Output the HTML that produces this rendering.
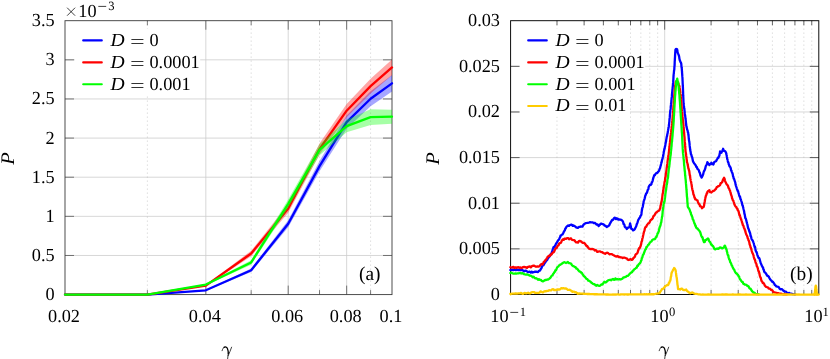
<!DOCTYPE html>
<html><head><meta charset="utf-8"><title>P vs gamma</title>
<style>
html,body{margin:0;padding:0;background:#fff;}
body{width:830px;height:359px;overflow:hidden;font-family:"Liberation Serif",serif;}
#w{width:830px;height:359px;will-change:transform;}
svg{display:block;}
svg text{font-family:"Liberation Serif",serif;fill:#000;text-rendering:geometricPrecision;}
</style></head><body><div id="w">
<svg width="830" height="359" viewBox="0 0 830 359">
<rect width="830" height="359" fill="#fff"/>
<path d="M205.83 20.7V294.6M288.21 20.7V294.6M346.66 20.7V294.6M65 255.47H392M65 216.34H392M65 177.21H392M65 138.09H392M65 98.96H392M65 59.83H392" stroke="#cdcdcd" stroke-width="0.8" fill="none"/>
<path d="M147.38 20.7V294.6M251.17 20.7V294.6M319.53 20.7V294.6M370.59 20.7V294.6" stroke="#b4b4b4" stroke-width="0.8" stroke-dasharray="0.8 3.2" fill="none"/>
<path d="M664.7 20.7V294.5M510.6 248.87H818.8M510.6 203.23H818.8M510.6 157.6H818.8M510.6 111.97H818.8M510.6 66.33H818.8" stroke="#cdcdcd" stroke-width="0.8" fill="none"/>
<path d="M556.99 20.7V294.5M584.12 20.7V294.5M603.38 20.7V294.5M618.31 20.7V294.5M630.51 20.7V294.5M640.83 20.7V294.5M649.77 20.7V294.5M657.65 20.7V294.5M711.09 20.7V294.5M738.22 20.7V294.5M757.48 20.7V294.5M772.41 20.7V294.5M784.61 20.7V294.5M794.93 20.7V294.5M803.87 20.7V294.5M811.75 20.7V294.5" stroke="#b4b4b4" stroke-width="0.8" stroke-dasharray="0.8 3.2" fill="none"/>
<path d="M205.83 294.6v-9 M205.83 20.7v9M288.21 294.6v-9 M288.21 20.7v9M346.66 294.6v-9 M346.66 20.7v9M147.38 294.6v-4.5 M147.38 20.7v4.5M251.17 294.6v-4.5 M251.17 20.7v4.5M319.53 294.6v-4.5 M319.53 20.7v4.5M370.59 294.6v-4.5 M370.59 20.7v4.5M65 255.47h9 M392 255.47h-9M65 216.34h9 M392 216.34h-9M65 177.21h9 M392 177.21h-9M65 138.09h9 M392 138.09h-9M65 98.96h9 M392 98.96h-9M65 59.83h9 M392 59.83h-9" stroke="#444" stroke-width="0.7" fill="none"/>
<path d="M664.7 294.5v-9 M664.7 20.7v9M556.99 294.5v-4.5 M556.99 20.7v4.5M584.12 294.5v-4.5 M584.12 20.7v4.5M603.38 294.5v-4.5 M603.38 20.7v4.5M618.31 294.5v-4.5 M618.31 20.7v4.5M630.51 294.5v-4.5 M630.51 20.7v4.5M640.83 294.5v-4.5 M640.83 20.7v4.5M649.77 294.5v-4.5 M649.77 20.7v4.5M657.65 294.5v-4.5 M657.65 20.7v4.5M711.09 294.5v-4.5 M711.09 20.7v4.5M738.22 294.5v-4.5 M738.22 20.7v4.5M757.48 294.5v-4.5 M757.48 20.7v4.5M772.41 294.5v-4.5 M772.41 20.7v4.5M784.61 294.5v-4.5 M784.61 20.7v4.5M794.93 294.5v-4.5 M794.93 20.7v4.5M803.87 294.5v-4.5 M803.87 20.7v4.5M811.75 294.5v-4.5 M811.75 20.7v4.5M510.6 248.87h9 M818.8 248.87h-9M510.6 203.23h9 M818.8 203.23h-9M510.6 157.6h9 M818.8 157.6h-9M510.6 111.97h9 M818.8 111.97h-9M510.6 66.33h9 M818.8 66.33h-9" stroke="#222" stroke-width="0.7" fill="none"/>
<rect x="65" y="20.7" width="327" height="273.9" fill="none" stroke="#3a3a3a" stroke-width="0.9"/>
<rect x="510.6" y="20.7" width="308.2" height="273.8" fill="none" stroke="#000000" stroke-width="0.95"/>
<g>
<polygon points="65,294.6 147.38,294.6 205.83,289.83 251.17,268.46 288.21,220.18 319.53,161.02 346.66,115.47 370.59,91.29 392,75.09 392,91.52 370.59,106.16 346.66,128.77 319.53,171.19 288.21,227.22 251.17,271.91 205.83,290.77 147.38,294.6 65,294.6" fill="#0000ff" fill-opacity="0.35"/>
<polyline points="65,294.6 147.38,294.6 205.83,290.3 251.17,270.18 288.21,223.7 319.53,166.1 346.66,122.12 370.59,98.72 392,83.31" fill="none" stroke="#0000ff" stroke-width="2.3" stroke-linejoin="round" stroke-linecap="round"/>
<polygon points="65,294.6 147.38,294.6 205.83,284.97 251.17,250.7 288.21,204.21 319.53,143.56 346.66,104.04 370.59,78.69 392,59.59 392,75.25 370.59,93.56 346.66,117.35 319.53,154.52 288.21,212.82 251.17,256.18 205.83,286.23 147.38,294.6 65,294.6" fill="#ff0000" fill-opacity="0.35"/>
<polyline points="65,294.6 147.38,294.6 205.83,285.6 251.17,253.44 288.21,208.52 319.53,149.04 346.66,110.7 370.59,86.12 392,67.42" fill="none" stroke="#ff0000" stroke-width="2.3" stroke-linejoin="round" stroke-linecap="round"/>
<polygon points="65,294.6 147.38,294.6 205.83,283.96 251.17,260.25 288.21,199.52 319.53,144.35 346.66,119.85 370.59,109.29 392,109.68 392,123.76 370.59,124.94 346.66,132.37 319.53,155.3 288.21,208.13 251.17,264.63 205.83,285.21 147.38,294.6 65,294.6" fill="#00ff00" fill-opacity="0.35"/>
<polyline points="65,294.6 147.38,294.6 205.83,284.58 251.17,262.44 288.21,203.82 319.53,149.82 346.66,126.11 370.59,117.11 392,116.72" fill="none" stroke="#00ff00" stroke-width="2.3" stroke-linejoin="round" stroke-linecap="round"/>
</g>
<polyline points="510.35,270.05 511.35,269.83 512.35,269.54 513.36,270.2 514.36,269.58 515.36,270.09 516.36,270.02 517.37,269.58 518.37,270.12 519.32,269.71 520.28,270.24 521.23,269.95 522.19,269.98 523.14,270.54 524.1,271.37 525.05,270.69 526.01,270.73 526.96,271.42 527.92,272.18 528.87,271.96 529.83,271.73 530.78,272.59 531.74,271.61 532.81,272.52 533.88,272.03 534.95,271.73 536.02,271.66 537.09,271.97 537.98,272.19 538.87,270.93 539.76,270.73 540.29,270.12 540.83,268.99 541.36,268.35 541.9,266.89 542.43,265.89 542.97,265.24 543.5,265.17 544.04,264.22 544.57,263.21 545.11,262.74 545.68,261.78 546.25,260.68 546.83,260.45 547.4,259.65 547.97,258.15 548.54,257.58 549.12,256.73 549.65,256.44 550.19,255.58 550.72,254.12 551.26,254.12 551.79,252.32 552.1,251.47 552.41,251.02 552.71,249.34 553.02,248.63 553.52,247.23 554.02,247.13 554.53,246.65 555.03,245.65 555.53,245.2 556.03,243.67 556.53,243.18 557.03,242.3 557.53,241.43 558.03,240.41 558.54,240.07 559.04,239.53 559.54,238.11 560.04,237.37 560.54,235.69 561.04,235.53 561.71,234.82 562.38,234.51 563.05,233.59 563.72,231.96 564.25,230.93 564.79,230.37 565.32,228.62 565.86,228.07 566.39,226.83 567.28,226.13 568.17,225.46 569.06,225.91 569.96,225.01 570.85,224.73 571.74,224.66 572.63,225.86 573.52,225.39 574.41,226.1 575.3,226.58 576.19,227.4 577.09,227.74 577.98,227.82 578.87,227.01 579.76,226.96 580.65,226.42 581.54,226.7 582.43,226.58 583.32,224.93 584.22,224.07 585.11,223.49 586,223.04 586.89,222.96 587.78,222.77 588.89,222.54 590,222.22 590.89,222.44 591.78,222.28 592.67,222.36 593.68,223.01 594.68,222.83 595.35,223.19 596.02,223.91 596.68,224.68 597.69,224.49 598.69,226.11 599.36,225.34 600.03,224.62 600.7,223.66 601.7,223.73 602.7,224.23 603.7,224.42 604.71,225.71 605.37,225.74 606.04,226.23 606.71,227.04 607.6,226.35 608.49,225.93 609.39,224.93 609.89,223.75 610.39,222.91 610.89,221.88 611.39,221.25 612.06,219.98 612.73,220.2 613.4,219.27 614.06,218.12 614.73,217.59 615.4,218.38 616.07,219.11 616.74,218.25 617.41,218.66 618.3,219.6 619.19,219.43 620.08,219.72 620.97,219.77 621.86,220.27 622.75,221.24 623.16,222.15 623.56,223.89 623.96,224.11 624.36,224.63 624.76,226.78 625.43,227.42 626.1,227.69 626.76,228.97 627.77,227.67 628.77,227.54 629.1,227.34 629.44,226.42 629.77,225.19 630.11,223.5 630.33,224.34 630.55,224.92 630.78,226.59 631,227.37 631.22,228.59 631.44,228.93 632.25,229.14 633.05,230.43 633.92,230.04 634.79,229.12 635.29,228.04 635.79,227.03 636.29,225.91 636.79,224.13 637.19,223.38 637.59,222.27 637.99,220.81 638.4,219.72 638.8,219.1 639.2,218.23 639.6,217.93 640,217.57 640.4,216.07 640.8,215.67 641.26,214.91 641.44,213.99 641.62,212.2 641.81,210.8 641.99,209.72 642.18,208.69 642.36,207.73 642.54,207.39 642.73,207.02 642.92,206.15 643.11,204.7 643.3,203.85 643.49,203.14 643.68,201.23 643.87,200.81 644.06,200.38 644.4,199.35 644.73,198.29 645.07,196.88 645.4,195.32 645.74,195.04 646.07,193.59 646.52,193.24 646.96,192.76 647.41,191.16 647.74,189.95 648.07,189.67 648.41,188.57 648.74,186.74 649.41,185.59 650.08,184.7 650.75,184.93 651.42,184.27 651.75,182.37 652.09,182.08 652.42,181.51 652.75,180.17 653.09,178.63 653.42,177.75 653.92,176.18 654.43,174.84 654.93,175.11 655.43,174.03 656.32,173.16 657.21,173.02 658.1,171.79 658.6,171.42 659.1,170.65 659.61,168.95 660.11,167.92 660.33,166.98 660.55,165.97 660.78,165.51 661,164.24 661.22,163.44 661.44,162.13 661.67,162.2 661.89,160.76 662.11,159.83 662.34,159.07 662.56,158.65 662.78,157.18 662.98,156.79 663.18,155.42 663.38,154.4 663.58,153.43 663.78,151.75 663.98,151.2 664.18,150.01 664.39,148.74 664.59,148.85 664.79,147.33 664.97,146.61 665.15,146.08 665.33,145 665.52,143.66 665.7,142.85 665.88,141.98 666.06,141.37 666.24,139.53 666.43,138.95 666.61,137.65 666.79,136.62 666.97,136.34 667.16,135.2 667.34,134.25 667.52,133.57 667.7,132.91 667.89,131.35 668.07,130.45 668.25,129.34 668.43,128.34 668.61,127.62 668.8,126.38 668.9,125.42 669,124.37 669.09,124.03 669.19,122.88 669.29,122.1 669.39,121.27 669.49,119.35 669.59,118.51 669.69,118.12 669.79,117.17 669.89,115.18 669.99,113.87 670.09,113.24 670.19,111.83 670.28,110.96 670.38,109.76 670.48,109.57 670.58,108.99 670.68,108.29 670.78,106.31 670.88,105.84 670.98,104.93 671.08,103.22 671.18,103.08 671.28,102.46 671.38,100.51 671.47,100.29 671.57,98.74 671.67,97.71 671.77,97.43 671.87,96.43 671.97,94.43 672.08,93.5 672.18,92.62 672.28,91.38 672.39,90.09 672.49,89.15 672.59,88.73 672.69,86.88 672.8,86.37 672.9,85.33 673,83.7 673.11,82.94 673.21,82.41 673.25,81.41 673.29,79.78 673.34,79.92 673.38,78.99 673.42,78.28 673.52,76.15 673.62,75.06 673.71,73.72 673.81,73.71 673.91,72.29 674.01,70.98 674.1,70.33 674.2,70.16 674.3,69.29 674.39,67.55 674.49,66.18 674.54,66.2 674.59,65.03 674.64,64.18 674.69,62.37 674.74,61.09 674.78,60.94 674.83,59.84 674.88,58.31 674.93,58.43 674.98,57.34 675.03,56.57 675.09,54.6 675.16,54.42 675.23,52.52 675.29,52.4 675.36,51.07 675.43,49.81 675.76,49.17 676.1,48.91 676.63,49.01 677.17,49.45 677.34,51.01 677.52,51.84 677.7,52.68 678.03,53.51 678.37,54.18 678.7,55.19 679.04,56.23 679.24,57.29 679.44,58.96 679.64,59.49 679.84,60.65 680.17,61.07 680.51,62.03 680.84,62.43 681.18,63.46 681.31,64.26 681.44,66.28 681.58,67.37 681.71,67.92 681.84,69.25 681.92,71.03 681.99,71.1 682.07,72.87 682.14,73.58 682.22,74.61 682.29,76.13 682.36,76.68 682.44,77.74 682.51,79.04 682.55,80.53 682.6,80.75 682.64,82.21 682.68,83.15 682.72,84.03 682.76,84.64 682.8,85.44 682.84,85.94 682.88,86.89 682.93,87.78 682.97,89.7 683.01,90.27 683.05,91 683.09,91.79 683.13,93.81 683.17,95.15 683.21,95.95 683.26,96.32 683.3,97.07 683.34,98.05 683.38,99.28 683.42,99.9 683.46,101.19 683.5,102.01 683.62,103.95 683.74,105.23 683.85,105.69 683.97,106.08 684.08,107.92 684.2,108.22 684.32,109.06 684.43,109.49 684.55,110.86 684.67,112.09 684.78,113.19 684.9,113.77 685.01,115.07 685.13,115.43 685.25,116.6 685.36,117.38 685.48,118.75 685.6,119.34 685.71,120.17 685.83,121.52 685.94,122.5 686.06,124 686.18,125.05 686.43,126.39 686.68,127.36 686.93,128.44 687.18,129.7 687.43,130.08 687.68,130.8 687.93,132.67 688.18,132.73 688.3,134.24 688.42,135.26 688.55,135.39 688.67,137.24 688.79,138.56 688.91,139.26 689.03,140.3 689.15,141.41 689.28,141.45 689.4,142.7 689.52,143.72 689.64,145.19 689.76,146.26 689.88,147.3 690,147.94 690.13,149.26 690.25,150.03 690.37,150.96 690.49,151.25 690.61,151.73 690.73,152.71 690.86,154.01 691.3,154.63 691.75,156.49 692.19,157.27 692.41,158.41 692.62,159.5 692.83,160.65 693.05,161.47 693.26,161.76 694.06,163.34 694.87,164.22 695.37,164.89 695.87,165.82 696.37,166.96 696.87,167.13 697.41,168.79 697.94,169.24 698.48,169.78 699.01,170.87 699.55,172.52 699.88,172.87 700.21,174.37 700.55,175.78 700.88,176.14 701.22,176.71 701.55,177.64 701.95,177.01 702.35,176.29 702.75,175.2 703.16,174.25 703.56,172.5 703.89,171.47 704.22,170.69 704.56,170.53 704.89,169.23 705.23,168.59 705.56,166.98 705.86,165.96 706.16,165.33 706.46,165.11 706.76,164.46 707.05,163.63 707.35,162.21 708.02,163.26 708.69,164.13 709.36,165.01 710.03,163.84 710.7,164.14 711.36,162.76 712.37,164 713.37,164.55 714.04,162.4 714.71,161.77 715.37,161.47 716.04,161.2 716.71,159.9 717.38,158.78 717.88,157.73 718.38,157.88 718.88,156.29 719.39,155.76 719.55,154.21 719.72,153.6 719.89,153.33 720.05,151.37 721.39,152.74 721.82,151.66 722.26,151.3 722.69,150.34 723.13,148.79 723.66,150.43 724.2,150.95 724.73,151.07 725.4,151.47 726.07,152.76 726.26,153.85 726.45,154.63 726.64,155.3 726.83,156.46 727.02,157.43 727.22,159.15 727.41,159.13 727.74,160.91 728.07,162.28 728.41,162.36 728.74,164.24 729.14,165.14 729.55,166.33 729.95,166.46 730.35,167.28 730.75,168.21 731.04,170.03 731.32,170.66 731.61,171.18 731.89,172.11 732.18,172.83 732.47,173.39 732.75,174.31 733.07,176.32 733.38,176.81 733.69,178.58 734,178.8 734.31,179.57 734.63,180.84 734.94,181.43 735.25,182.56 735.56,184.41 735.87,185.55 736.19,186.46 736.5,187.16 736.81,188.45 737.12,189.56 737.43,190.01 737.77,191.1 738.1,191.17 738.44,192.87 738.77,193.68 739.1,195.06 739.44,196.02 739.77,196.49 740.11,196.99 740.44,199.11 740.78,199.29 741.11,200.55 741.44,201.44 741.78,202.35 742.11,203.95 742.45,205.48 742.78,205.61 742.98,206.85 743.18,207.37 743.38,208.55 743.58,209.32 743.78,209.88 743.98,210.7 744.18,211.66 744.39,213.61 744.59,214.27 744.79,214.72 745.04,216.56 745.29,217.95 745.54,218.28 745.79,218.63 746.04,219.52 746.29,220.34 746.54,221.65 746.79,222.38 747.08,223.47 747.38,224.49 747.67,225.91 747.96,227.46 748.25,228.39 748.55,228.86 748.84,229.66 749.13,230.73 749.42,231.51 749.72,232.35 750.01,232.87 750.3,234.01 750.59,236.01 750.89,236.06 751.18,237.29 751.47,238.51 751.85,239.78 752.23,239.83 752.62,240.53 753,241.31 753.38,242.36 753.76,243.34 754.14,244.97 754.4,245.97 754.65,246.95 754.9,246.66 755.15,247.23 755.4,249.02 755.65,250.47 755.9,250.94 756.15,251.89 756.53,251.91 756.91,253.08 757.3,254.81 757.68,255.78 758.06,256.72 758.44,257.77 758.82,257.64 759.21,258.1 759.59,258.97 759.97,260.43 760.35,261.77 760.73,263.21 761.12,264 761.5,264.79 761.88,265.87 762.26,266.42 762.64,267.39 763.03,267.61 763.41,269.41 763.79,269.83 764.17,271.62 764.67,272.3 765.17,272.6 765.68,273.03 766.18,273.92 766.84,275.15 767.51,276.08 768.18,275.99 768.85,276.7 769.52,278.27 770.17,279.39 770.82,280.06 771.47,280.63 772.14,281.75 772.81,281.71 773.48,282.58 774.14,283.54 774.81,285.01 775.61,285.47 776.42,286.42 777.22,286.58 778.02,286.75 778.82,287.29 779.63,288.81 780.43,289.28 781.23,289.22 782.03,289.16 782.83,290.21 783.84,291.11 784.84,291.37 785.84,291.56 786.84,292.56 787.85,293.42 788.85,292.9 789.85,293.35 790.86,293.72 791.86,293.91 792.86,294.13 793.86,294.23 794.87,294.48" fill="none" stroke="#0000ff" stroke-width="2.3" stroke-linejoin="round" stroke-linecap="round"/>
<polyline points="510.35,267.11 511.35,267.52 512.35,267.36 513.36,266.92 514.36,267.94 515.36,267.34 516.36,267.94 517.37,267.32 518.37,267.17 519.32,267.84 520.28,267.34 521.23,268.12 522.19,267.66 523.14,267.06 524.1,266.9 525.05,267.1 526.01,267.44 526.96,267.88 527.92,266.79 528.87,266.75 529.83,266.42 530.78,267.34 531.74,266.36 532.69,265.83 533.65,265.58 534.6,265.9 535.56,266.63 536.51,266.73 537.47,266.45 538.42,266.65 539.43,266.23 540.43,264.93 541.43,264.02 542.43,264.53 543.1,263.7 543.77,261.84 544.44,261.61 545.11,260.54 545.78,259.69 546.44,258.83 547.11,257.79 547.78,256.69 548.45,256.21 549.12,255.63 549.92,255.89 550.72,254.3 551.52,254.57 552.33,253.09 553.13,252.39 553.64,252.27 554.16,251.69 554.67,250.41 555.18,248.92 555.7,248.54 556.27,247.75 556.84,247.77 557.41,246.19 557.99,245.43 558.56,245.44 559.13,243.66 559.71,243.13 560.37,243.12 561.04,242.58 561.71,240.9 562.38,239.92 563.05,239.27 563.72,239.89 564.39,238.7 565.05,238.62 566.06,238.87 567.06,238.04 568.06,238.07 569.06,239.3 570.4,238.41 571.07,238.5 571.74,239.65 572.41,239.89 573.41,240.17 574.41,240.19 575.3,241.49 576.19,242.36 577.09,242.47 577.98,242.62 578.87,241.18 579.76,240.9 580.76,241.23 581.76,242.02 582.77,242.92 583.77,242.84 584.44,243.09 585.11,243.89 585.78,244.69 586.44,246.02 587.11,245.82 587.78,247.12 588.45,247.88 589.12,248.7 590,249 591,249.09 592.01,248.95 593.01,249.13 594.01,249.47 594.81,250.54 595.61,250.16 596.42,250.54 597.22,251.77 598.02,251.73 599.09,251.4 600.16,251.31 601.23,252.09 602.3,252.05 603.37,253.04 604.26,253.39 605.15,253.81 606.04,253.05 606.93,252.71 607.83,252.79 608.72,253.54 609.61,254.23 610.5,254.21 611.39,254.06 612.28,254.43 613.17,254.99 614.06,255.39 614.96,255.89 615.85,256.41 616.74,256.54 617.63,256.03 618.52,257.15 619.41,256.93 620.48,257.37 621.55,257.37 622.62,258.05 623.69,257.63 624.76,257.72 625.76,258.08 626.76,258.34 627.77,259.75 628.77,260.01 629.77,259.44 630.78,259.25 631.78,259.94 632.78,259.33 633.32,258 633.85,257.87 634.39,257.04 634.92,256.72 635.45,254.78 635.99,254.17 636.52,253.93 637.06,253.32 637.59,252.69 638.13,250.67 638.51,249.82 638.89,248.71 639.27,247.87 639.66,248.15 640.04,247.07 640.42,246.64 640.8,245.11 641.05,244.62 641.3,243.17 641.55,241.76 641.8,241.38 642.06,240.81 642.31,238.72 642.56,238.1 642.81,237.25 643.06,235.71 643.31,234.76 643.56,233.45 643.81,232.45 644.06,231.52 644.31,231.03 644.56,230.26 644.81,228.68 645.31,227.39 645.82,226.88 646.32,226.65 646.82,225.28 647.49,224.47 648.16,223.48 648.82,223.46 649.49,222.51 650.16,220.94 650.83,219.94 651.5,219.48 652.17,218.98 652.67,218.37 653.17,216.81 653.67,215.87 654.17,215.76 654.84,214.57 655.51,213.33 656.14,212.35 656.76,212.33 657.66,211.24 658.55,210.96 659.44,210.27 659.69,209.28 659.94,208.92 660.19,208.3 660.44,206.5 660.69,205.02 660.94,204.64 661.19,203.07 661.44,201.61 661.59,201.81 661.73,200.51 661.87,200.03 662.02,198.62 662.16,198.21 662.3,196.81 662.45,195.3 662.59,193.96 662.73,193.66 662.88,193.03 663.02,192.56 663.16,190.57 663.31,190.07 663.45,188.89 663.62,188.02 663.78,186.54 663.95,185.59 664.12,184.94 664.28,184.63 664.45,182.66 664.62,181.91 664.79,181.44 664.95,180.83 665.12,178.84 665.29,177.44 665.45,177.49 665.59,176.86 665.73,175.26 665.87,173.46 666.01,173.48 666.15,172.02 666.29,171.62 666.43,170.4 666.57,169.62 666.71,167.74 666.85,167.38 666.99,165.76 667.13,164.84 667.26,164.5 667.4,163.67 667.54,161.8 667.68,160.59 667.82,159.79 667.96,159.02 668.1,157.9 668.24,156.49 668.38,155.54 668.52,155.25 668.66,154.71 668.8,152.62 668.91,152.04 669.01,151.45 669.12,149.53 669.23,149.4 669.34,147.63 669.45,147.09 669.56,146.15 669.67,145.28 669.77,143.85 669.88,142.89 669.99,142.13 670.1,140.98 670.21,140.26 670.32,139.04 670.43,137.96 670.53,136.34 670.66,135.98 670.78,134.97 670.9,133.58 671.03,133.2 671.15,132.39 671.28,130.97 671.4,129.42 671.52,128.66 671.65,127.18 671.77,126.05 671.89,125.43 672.02,124.03 672.14,123.4 672.22,122.6 672.29,120.98 672.37,120.64 672.44,119.03 672.52,118.78 672.6,118.06 672.67,116.75 672.75,114.99 672.83,114.4 672.9,113.33 672.98,113.13 673.06,111.19 673.13,110.93 673.21,110.35 673.28,109.08 673.36,108.11 673.44,106.22 673.51,106.08 673.59,104.62 673.67,104.14 673.74,103.23 673.83,101.16 673.91,100.71 673.99,100.06 674.07,97.9 674.15,96.94 674.24,96.52 674.32,94.81 674.4,94.64 674.48,92.98 674.57,92.54 674.65,90.72 674.73,89.97 674.81,89.62 674.97,87.85 675.12,86.73 675.27,86.07 675.42,84.94 675.58,83.52 675.73,82.64 675.88,81.68 676.35,81.79 676.82,80.75 677.2,81.91 677.58,81.81 677.96,83.27 678.35,83.35 678.73,84.57 679.11,85.69 679.49,86.23 679.64,87.91 679.79,88.69 679.94,89.68 680.09,91.14 680.23,91.19 680.38,93.21 680.53,94.02 680.68,94.66 680.83,96.15 680.9,96.55 680.97,98.44 681.04,99.13 681.12,99.74 681.19,101.23 681.26,101.93 681.33,102.48 681.4,104.18 681.48,104.41 681.55,106.31 681.62,106.78 681.69,108.2 681.76,109.84 681.87,110.46 681.97,111.47 682.07,111.98 682.17,112.39 682.27,113.27 682.38,114.41 682.48,116.13 682.58,117.09 682.68,118.2 682.78,119.8 682.89,119.88 682.99,120.76 683.09,122.34 683.19,122.61 683.29,123.38 683.39,124.82 683.5,125.61 683.6,126.91 683.7,127.82 683.8,129.32 683.9,130.49 683.98,130.98 684.06,132.44 684.14,133.36 684.22,133.85 684.3,135.85 684.39,136.16 684.47,136.81 684.55,137.64 684.63,139.37 684.71,140.92 684.79,141.96 684.87,142.43 684.95,143.07 685.03,143.6 685.11,145.38 685.19,146.49 685.27,147.22 685.35,148.57 685.43,149.38 685.51,151.04 685.63,151.92 685.75,152.16 685.87,153.86 685.99,153.81 686.12,155.18 686.24,156.09 686.36,156.8 686.48,157.44 686.6,159.35 686.72,159.49 686.84,161 687.07,162.71 687.29,162.77 687.51,163.56 687.74,165.08 687.96,166.09 688.18,167.28 688.4,168.57 688.63,168.74 688.85,169.68 689.07,170.64 689.3,171.26 689.52,173.35 689.69,174.53 689.85,175.49 690.02,175.46 690.19,177.36 690.35,178.49 690.52,179.12 690.69,180.41 690.86,181.09 691.02,181.66 691.19,182.37 691.36,183.46 691.52,184.21 691.72,185.5 691.93,187.14 692.13,188.21 692.33,189.4 692.53,190.22 692.73,190.48 692.93,191.62 693.13,192.45 693.33,193.87 693.53,194.56 693.86,195.01 694.2,196.31 694.53,197.79 694.87,197.78 695.2,199.36 695.53,199.21 696.54,199.92 697.54,200.56 698.04,202.12 698.54,203.47 699.04,204.17 699.55,204.36 700,206.25 700.67,206.31 701.34,206.66 702.01,208.2 702.87,207.39 703.74,206.77 703.92,205.78 704.1,205.26 704.28,203.69 704.46,203.08 704.63,202.02 704.81,201.25 704.99,199.74 705.17,199.03 705.35,197.91 705.68,196.6 706.02,195.44 706.35,195.06 706.68,193.54 707.02,193.66 707.35,191.97 708.36,190.89 709.36,190.22 710.03,192.07 710.7,192.25 711.36,192.48 712.37,191.51 713.37,190.78 714.04,190.8 714.71,190.1 715.37,189.36 716.04,188.79 716.71,187.19 717.38,186.99 718.05,186.14 718.72,186.07 719.39,185.58 720.05,185.07 720.63,183.09 721.2,183.06 721.77,182.53 722.35,181.83 722.92,179.82 723.49,178.77 724.06,177.74 724.51,178.5 724.96,180.56 725.4,181.78 725.85,182.54 726.29,183.7 726.74,184.43 727.18,184.81 727.63,185.3 728.07,186.11 728.52,187.95 728.97,188.37 729.41,189.31 729.75,190.46 730.08,190.93 730.41,192.12 730.75,193.21 731.08,194.86 731.42,195.56 731.75,196.4 732.09,198.28 732.42,198.8 732.75,200.1 733.09,200.8 733.42,200.81 733.76,202 734.09,203.04 734.43,204.48 734.76,204.94 735.29,206.12 735.83,206.8 736.36,207.1 736.9,208.68 737.43,208.6 737.77,210.31 738.1,210.53 738.44,211 738.77,212.07 739.1,213.84 739.44,215.32 739.77,215.01 740.11,216.26 740.44,217.36 740.78,218.84 741.11,219.1 741.44,220.33 741.78,221.18 742.11,222.84 742.45,223.22 742.78,225.02 743.11,225.22 743.45,225.81 743.78,227.33 744.12,228.13 744.45,228.45 744.79,229.94 745.12,230.23 745.45,231.97 745.79,233 746.12,234.07 746.46,234.81 746.79,235.27 747.13,236.11 747.46,237 747.79,238.61 748.13,238.58 748.43,240.41 748.72,240.4 749.02,241.33 749.32,242.37 749.61,244.27 749.91,244.94 750.21,245.64 750.51,247.26 750.8,247.48 751.14,248.59 751.47,249.72 751.8,251.09 752.14,252.2 752.47,253.08 752.81,253.62 753.14,254.45 753.48,255.15 753.81,257.05 754.14,258.07 754.48,259.19 754.81,259.4 755.15,260.56 755.48,262.09 755.82,262.97 756.15,263.28 756.48,264.56 756.82,266.25 757.15,266.53 757.49,267.25 757.82,268.33 758.16,269.93 758.49,271.32 758.82,271.44 759.08,272.24 759.34,273.35 759.59,274.53 759.85,275.91 760.11,276.54 760.51,277.59 760.91,278.36 761.31,280.38 761.71,281.29 762.11,281.31 762.78,283.08 763.45,282.93 764.12,283.85 764.79,285.56 765.45,286.36 766.26,286.94 767.06,287.15 767.86,287.34 768.66,288.5 769.47,288.55 770.27,289.04 771.07,289.82 771.87,289.92 772.67,290.85 773.48,292.07 774.48,292.47 775.48,292.54 776.48,292.99 777.49,293.12 778.56,293.25 779.63,293.53 780.7,293.73 781.76,293.99 782.83,294.25 783.84,294.25 784.84,294.32 785.84,294.42 786.84,294.44" fill="none" stroke="#ff0000" stroke-width="2.3" stroke-linejoin="round" stroke-linecap="round"/>
<polyline points="510.35,272.99 511.35,272.6 512.35,273.2 513.36,273.6 514.36,273.57 515.36,273.46 516.36,273.64 517.37,273.45 518.37,273.33 519.32,273.18 520.28,273.04 521.23,273.56 522.19,273.06 523.14,273.48 524.1,274.23 525.05,274.47 526.01,274.66 526.96,274.37 527.92,274.73 528.87,275.09 529.83,275.64 530.78,275.69 531.74,276.3 532.63,277.2 533.52,276.71 534.41,277.55 535.3,278.3 536.19,278.27 537.09,278.72 538.02,279.82 538.96,279.08 539.89,279.87 540.83,279.84 541.76,281 542.88,281.37 543.99,280.81 545.11,279.98 546.11,280 547.11,279.66 548.11,279.5 549.12,278.86 549.79,278.2 550.45,277.73 551.12,276.6 551.79,275.55 552.46,275.47 553.13,273.83 553.7,273.4 554.27,272.25 554.85,271.84 555.42,270.19 555.99,270.33 556.57,268.87 557.14,267.4 557.81,266.86 558.48,266.41 559.14,265.25 559.81,265.02 560.48,264.49 561.15,264.26 562.15,263.46 563.16,262.79 564.16,262.22 565.16,262.49 566.05,262.99 566.94,262.55 567.83,261.97 568.64,263.12 569.44,263.21 570.24,263.31 571.04,263.56 571.84,264.91 572.61,265.78 573.37,266.2 574.14,266.48 574.9,267.1 575.66,267.21 576.43,268.7 577.19,268.67 577.86,269.57 578.53,270.57 579.2,271.33 579.87,271.53 580.53,271.8 581.2,272.72 581.87,272.85 582.54,274.38 583.11,274.71 583.69,276.06 584.26,276.16 584.83,276.88 585.4,277.46 585.98,278.41 586.55,278.89 587.31,279.07 588.08,280.54 588.84,280.72 589.61,281.09 590.37,281.66 591.13,282.46 591.9,283.01 592.79,283.69 593.68,284.19 594.57,284.18 595.46,285.25 596.35,285.73 597.25,285 598.25,285.6 599.25,285.78 600.25,285.54 601.26,284.43 602.06,284.6 602.86,283.99 603.66,282.55 604.47,281.73 605.27,282.47 606.22,282.08 607.18,281.14 608.13,280.4 609.09,280 610.04,279.77 611,280.24 611.95,279.52 612.98,278.95 614,279.74 615.03,279.69 615.35,278.48 616.42,279.27 617.49,279.09 618.56,279.29 619.63,279.19 620.7,279.48 621.59,279.02 622.48,278.67 623.37,277.36 624.26,277.4 625.15,276.9 626.04,276.77 626.93,275.86 627.83,275.84 628.72,274.97 629.61,273.9 630.5,273.14 631.39,272.39 632.06,272.09 632.73,270.85 633.4,270.54 634.06,269.45 634.73,269.1 635.4,268.48 636.07,267.82 636.74,267.57 637.31,265.72 637.88,265.83 638.46,264.79 639.03,264.08 639.6,263.48 640.18,263.02 640.75,261.68 641.09,260.58 641.43,260.34 641.78,258.31 642.12,257.82 642.46,256.98 642.81,255.17 643.14,254.86 643.48,254.25 643.81,253.8 644.14,252.18 644.48,252.01 644.81,250.65 645.35,249.54 645.88,249.15 646.42,247.13 646.95,246.86 647.49,245.98 648.16,244.76 648.82,244.55 649.49,243.2 650.16,242.36 650.83,241.76 651.5,241.47 652.17,240.11 652.83,239.56 653.84,239.24 654.84,239.1 655.34,238.71 655.84,237.24 656.34,236.99 656.84,235.72 657.18,234.84 657.51,233.62 657.85,232.96 658.18,232.82 658.52,231.69 658.85,230.93 659.14,229.35 659.42,228.18 659.71,227.14 660,226.57 660.28,225.8 660.57,225.12 660.86,223.17 661.05,222.9 661.24,222.39 661.43,221.08 661.62,219.3 661.81,218.46 662,217.12 662.19,216.31 662.27,216.41 662.35,215.3 662.43,214.34 662.51,213.54 662.59,212.78 662.67,211.43 662.82,210.29 662.97,209.23 663.12,208.29 663.27,207.13 663.42,206.18 663.57,204.49 663.71,203.91 663.86,202.71 664.01,202.06 664.06,202.27 664.12,203.17 664.25,201.94 664.39,201.95 664.52,201.47 664.65,200.26 664.79,198.8 664.92,198.33 665.05,197.45 665.19,196.18 665.32,194.67 665.45,193.6 665.59,192.76 665.72,191.68 665.86,190.83 665.99,190.19 666.12,189.73 666.27,187.67 666.41,187.12 666.55,185.53 666.7,184.49 666.84,184.51 666.98,183.51 667.13,183.03 667.27,181.54 667.41,179.81 667.56,179.15 667.7,178.58 667.84,178.24 667.99,177.53 668.13,175.92 668.24,174.66 668.36,173.14 668.48,172.78 668.59,171.36 668.71,170.16 668.83,168.92 668.94,167.84 669.06,167.81 669.17,166.3 669.29,166.38 669.41,164.45 669.52,164.3 669.64,162.51 669.76,161.12 669.87,161.03 669.99,159.62 670.1,159.22 670.22,157.63 670.34,156.26 670.45,156.21 670.57,155.42 670.69,154.7 670.8,153.61 670.9,151.65 671,151.14 671.1,150.41 671.2,149.12 671.3,148.72 671.4,146.92 671.5,146.7 671.6,145.57 671.7,143.52 671.8,142.2 671.91,142.02 672.01,141.51 672.11,139.59 672.21,138.65 672.31,138.26 672.41,136.63 672.49,136.42 672.57,135.1 672.65,133.36 672.74,132.57 672.82,131.91 672.9,130.79 672.98,130.08 673.06,128.38 673.15,128.09 673.23,126.66 673.31,125.92 673.39,124.95 673.48,123.64 673.53,122.51 673.59,122.05 673.65,121.44 673.71,120.33 673.76,118.98 673.82,117.48 673.88,116 673.93,116.17 673.99,115.14 674.05,114.31 674.11,112.64 674.16,111.84 674.22,111.44 674.28,110.41 674.34,109.07 674.39,107.55 674.45,106.56 674.51,106.23 674.56,104.7 674.62,103.98 674.68,102.95 674.74,102.36 674.79,101.36 674.85,99.61 674.91,97.98 674.97,97.17 675.02,96.45 675.08,95.78 675.16,95.18 675.24,94.38 675.33,92.2 675.41,91.97 675.49,91.15 675.57,90.26 675.66,88.85 675.74,87.28 675.82,86.92 675.9,86.03 675.99,84.86 676.07,84.12 676.15,82.37 676.42,80.94 676.68,80.6 676.95,80.26 677.22,78.71 677.53,80.41 677.84,81.96 678.16,82.2 678.26,83.5 678.36,84.71 678.46,85.49 678.57,86.07 678.67,87.03 678.77,88.76 678.87,90.05 678.98,90.68 679.08,91.06 679.18,92.92 679.29,94.15 679.39,94.47 679.49,95.78 679.56,97.31 679.62,98.45 679.69,98.96 679.75,99.74 679.82,100.83 679.88,101.27 679.95,102.1 680.01,103.02 680.08,104.74 680.14,105.47 680.21,106.66 680.27,107.48 680.34,108.59 680.4,109.08 680.47,109.77 680.53,112.04 680.6,112.52 680.66,112.97 680.73,114.56 680.79,115.95 680.86,116.15 680.92,117.54 680.99,118.28 681.05,119.45 681.12,119.77 681.18,120.58 681.25,122.89 681.31,124.1 681.38,124.61 681.44,125.57 681.5,126.11 681.57,127.71 681.63,128.38 681.7,130.02 681.76,130.95 681.82,132 681.87,133.23 681.93,133.28 681.98,133.69 682.03,134.74 682.09,135.73 682.14,136.59 682.19,137.51 682.25,139.21 682.3,140.87 682.35,141.48 682.41,143.07 682.46,144.19 682.51,144.02 682.57,145.43 682.62,146.27 682.67,146.82 682.73,148.9 682.78,149.22 682.83,150.45 682.93,151.63 683.03,153.14 683.12,153.88 683.22,154.4 683.31,155.33 683.41,155.9 683.5,157.93 683.6,159.27 683.69,159.26 683.79,159.7 683.88,160.84 683.98,162.02 684.08,163.86 684.17,165.12 684.27,166.1 684.36,165.95 684.46,167.67 684.55,168.77 684.65,169.71 684.74,171.18 684.84,170.98 684.94,171.75 685.03,173.56 685.13,175.06 685.22,175.84 685.32,176.22 685.41,177.46 685.51,178.77 685.59,178.92 685.68,179.99 685.76,180.91 685.84,181.7 685.93,183.15 686.01,183.84 686.09,184.85 686.18,185.71 686.26,187.45 686.34,187.71 686.43,189.51 686.51,189.99 686.59,190.61 686.68,192.79 686.76,193.12 686.84,194.95 686.92,196.1 687,197.18 687.08,197.13 687.16,198.26 687.23,198.8 687.31,200.86 687.39,202.05 687.47,202.8 687.55,203.48 687.62,204.22 687.7,205.84 687.78,206.53 688.14,207.55 688.49,207.78 688.85,208.58 689.47,209.28 690.08,211.11 690.41,212.14 690.75,212.57 691.08,214.44 691.42,214.83 691.75,215.86 692.09,216.51 692.42,217.45 692.75,219.18 693.09,219.6 693.42,220.1 693.76,221.35 694.09,222.09 694.49,223.83 694.89,223.87 695.29,225.78 695.7,225.68 696.1,227.51 696.76,228.29 697.43,228.45 698.1,229.47 698.77,230.08 699.39,230.93 700,231.77 700.5,232.97 701,234.94 701.5,236.24 702.01,237.23 702.34,237.04 702.67,237.96 703.01,239.81 703.34,239.86 703.68,241.54 704.01,242.12 704.68,242.09 705.35,240.07 706.02,239.98 707.02,239.21 708.02,238.46 708.52,238.97 709.02,240.91 709.53,241.63 710.03,241.94 710.56,242.95 711.1,244.5 711.63,244.52 712.17,245.6 712.7,245.86 713.37,246.6 714.04,248.25 714.71,249.25 715.37,249.39 716.27,248.79 717.16,248.47 718.05,248.96 719.05,248.35 720.05,247.38 721.06,247.52 722.06,248.38 722.73,248.08 723.4,247.72 724.06,246.86 724.73,245.63 725.18,246.05 725.62,247.69 726.07,248.28 726.34,249.61 726.6,249.7 726.87,251.47 727.14,251.97 727.41,253.51 727.69,254.67 727.98,255.16 728.27,255.28 728.55,257.28 728.84,257.92 729.13,259.35 729.41,259.58 729.79,260.2 730.18,261.98 730.56,262.51 730.94,263.05 731.32,264.18 731.7,265.51 732.09,265.72 732.62,267.18 733.16,268.17 733.69,269.22 734.22,269.62 734.76,271.25 735.43,272.41 736.1,273.39 736.76,273.46 737.43,274.6 738.1,275.03 738.57,276.3 739.04,276.29 739.51,278.05 739.98,279.29 740.45,279.59 740.92,280.31 741.39,281.14 742.06,281.95 742.73,282.01 743.4,283.95 744.06,284.02 744.73,284.55 745.62,284.57 746.52,284.95 747.41,286.03 748.07,285.99 748.74,286.66 749.41,288.31 750.08,288.67 750.75,288.94 751.42,290.32 752.09,291.18 752.75,291.82 753.65,292.74 754.54,292.62 755.43,293.82 756.54,294.04 757.66,294.15 758.77,294.35" fill="none" stroke="#00ff00" stroke-width="2.3" stroke-linejoin="round" stroke-linecap="round"/>
<polyline points="510.6,294.3 510.35,293.85 511.33,293.8 512.31,293.71 513.29,293.61 514.27,293.6 515.25,293.51 516.23,293.52 517.21,293.54 518.19,293.38 519.17,293.37 520.15,293.36 521.13,292.88 522.11,293.56 523.09,293.89 524.07,293.16 525.05,292.95 526.08,293.44 527.11,293.08 528.14,292.73 529.17,293.37 530.2,293.27 531.22,292.56 532.25,292.15 533.28,292.12 534.31,292.2 535.34,292.96 536.37,292.88 537.39,292.97 538.42,292.8 539.39,292.7 540.37,291.44 541.34,291.64 542.31,292.25 543.28,292.32 544.26,291.27 545.23,291.11 546.2,291.29 547.17,290.87 548.15,290.9 549.12,290.15 550.12,290.28 551.12,290.26 552.13,289.41 553.13,289.17 554.13,290.15 555.13,290.01 556.14,290.04 557.14,289.47 558.14,289.48 559.14,289.5 560.15,289.41 561.15,288.06 562.26,288.53 563.38,288.1 564.49,288.53 565.61,288.36 566.72,288.88 567.83,289.78 568.73,289.95 569.62,289.77 570.51,290.39 571.4,290.76 572.29,291.9 573.18,291.59 574.07,291.68 574.96,292.41 575.86,292.07 576.75,292.85 577.64,293.81 578.53,293.48 579.48,293.49 580.44,293.59 581.39,293.68 582.35,293.69 583.3,293.75 584.26,293.82 585.21,293.92 586.21,293.97 587.2,293.98 588.19,294 589.18,293.99 590.17,294.08 591.16,294.18 592.15,294.18 593.15,294.19 594.14,294.23 595.13,294.18 596.12,294.27 597.11,294.27 598.1,294.3 599.09,294.34 600.09,294.34 601.08,294.33 602.07,294.33 603.06,294.34 604.05,294.41 605.04,294.43 606.03,294.49 607.03,294.42 608.02,294.48 609.01,294.6 610,294.54 611.01,294.56 612.03,294.55 613.04,294.51 614.05,294.61 615.06,294.52 616.08,294.57 617.09,294.47 618.1,294.42 619.12,294.54 620.13,294.49 621.14,294.41 622.15,294.43 623.17,294.44 624.18,294.49 625.19,294.39 626.2,294.38 627.22,294.49 628.23,294.49 629.24,294.38 630.26,294.37 631.27,294.36 632.28,294.41 633.29,294.41 634.31,294.45 635.32,294.45 636.33,294.39 637.35,294.4 638.36,294.4 639.37,294.4 640.38,294.34 641.4,294.37 642.41,294.37 643.42,294.39 644.39,294.25 645.37,294.33 646.34,294.2 647.31,294.28 648.28,294.27 649.26,294.24 650.23,294.3 651.2,294.24 652.17,294.19 653.15,294.23 654.12,294.25 655.19,294 656.26,293.74 657.33,293.52 658.4,293.31 659.47,293.4 660,292.09 660.53,291.28 661.07,290.71 661.6,289.73 662.14,288.79 662.81,288.84 663.48,288.55 664.14,287.57 664.81,286.79 665.65,285.92 666.48,285.53 667.32,284.88 668.16,285 668.56,284.24 668.96,282.64 669.36,282.71 669.76,281.21 670.16,280.86 670.36,280.09 670.56,279.38 670.76,277.42 670.96,276.5 671.16,276.27 671.36,274.24 671.56,273.04 671.76,272.76 671.97,271.93 672.17,271.63 672.67,270.78 673.17,269.6 673.67,269.32 674.17,267.96 674.84,268.81 675.51,270 675.66,270.68 675.81,271.56 675.95,272.89 676.1,273.67 676.25,275.49 676.4,276.37 676.55,277.15 676.7,277.5 676.84,278.72 676.98,279.82 677.11,281.08 677.25,282.18 677.38,283.66 677.51,284.92 677.65,285.31 677.78,286.07 677.91,287.26 678.05,288.86 678.18,289.1 679.18,289.14 680.19,289.56 681.19,288.76 682.19,288.73 683.2,289.91 684.2,290.2 685.2,290 686.2,289.53 687.01,290.93 687.81,291.39 688.61,292.05 689.41,292.83 690.21,293.26 691.11,292.81 692,292.47 692.89,292.73 693.78,293.4 694.67,293.66 695.56,293.85 696.63,293.97 697.7,294.17 698.77,294.32 699.84,294.42 700.91,294.65 701.92,294.62 702.92,294.51 703.93,294.54 704.93,294.61 705.94,294.55 706.95,294.6 707.95,294.49 708.96,294.52 709.96,294.61 710.97,294.6 711.98,294.61 712.98,294.53 713.99,294.56 715,294.58 716,294.53 717.01,294.59 718.01,294.58 719.02,294.65 720.03,294.61 721.02,294.57 722.02,294.51 723.02,294.49 724.02,294.59 725.02,294.51 726.01,294.48 727.01,294.49 728.01,294.55 729.01,294.62 730.01,294.61 731,294.64 732,294.52 733,294.47 734,294.59 734.99,294.55 735.99,294.6 736.99,294.56 737.99,294.51 738.99,294.51 739.98,294.49 740.98,294.62 741.98,294.6 742.98,294.55 743.98,294.56 744.97,294.55 745.97,294.49 746.97,294.61 747.97,294.6 748.96,294.65 749.96,294.59 750.96,294.6 751.96,294.54 752.96,294.48 753.95,294.62 754.95,294.65 755.95,294.56 756.95,294.64 757.95,294.65 758.94,294.56 759.94,294.59 760.94,294.65 761.94,294.6 762.93,294.65 763.93,294.55 764.93,294.55 765.93,294.6 766.93,294.53 767.92,294.53 768.92,294.62 769.92,294.58 770.92,294.63 771.92,294.54 772.91,294.51 773.91,294.53 774.91,294.5 775.91,294.63 776.9,294.55 777.9,294.58 778.9,294.51 779.9,294.56 780.9,294.55 781.89,294.55 782.89,294.49 783.89,294.48 784.89,294.6 785.89,294.56 786.88,294.52 787.88,294.5 788.88,294.51 789.88,294.51 790.87,294.47 791.87,294.57 792.87,294.54 793.87,294.5 794.87,294.59 795.89,294.51 796.91,294.51 797.93,294.61 798.96,294.52 799.98,294.55 801,294.62 802.02,294.64 803.04,294.53 804.07,294.54 805.09,294.6 806.11,294.56 807.13,294.65 808.16,294.54 809.18,294.64 810.2,294.59 811.22,294.53 812.25,294.55 813.18,294.51 814.12,294.59 815.05,294.55 815.99,294.65 816.93,294.62 817.86,294.58 818.8,294.55" fill="none" stroke="#ffcc00" stroke-width="2.3" stroke-linejoin="round" stroke-linecap="round"/>
<polyline points="814.6,294.5 815.2,290 815.5,286.5 815.8,285.6 816.1,286.5 816.4,290 817,294.5" fill="none" stroke="#ffcc00" stroke-width="2.3" stroke-linejoin="round" stroke-linecap="round"/>
<rect x="74.8" y="28.9" width="110.2" height="66" fill="#fff"/>
<rect x="184.8" y="54.9" width="15.4" height="14" fill="#fff"/>
<rect x="184.8" y="76.7" width="6.6" height="14" fill="#fff"/>
<line x1="83.2" y1="40.4" x2="101.8" y2="40.4" stroke="#0000ff" stroke-width="2.1" stroke-linecap="round"/>
<text transform="translate(110.4,45.8) scale(1.07,1)" font-size="18.3" text-anchor="start" font-style="italic">D</text>
<path d="M131.4 39.5H143.4" stroke="#000" stroke-width="0.8" fill="none"/>
<path d="M131.4 43.5H143.4" stroke="#000" stroke-width="0.8" fill="none"/>
<text transform="translate(149.5,45.8) scale(0.992,1)" font-size="18.4" text-anchor="start">0</text>
<line x1="83.2" y1="62.4" x2="101.8" y2="62.4" stroke="#ff0000" stroke-width="2.1" stroke-linecap="round"/>
<text transform="translate(110.4,67.8) scale(1.07,1)" font-size="18.3" text-anchor="start" font-style="italic">D</text>
<path d="M131.4 61.5H143.4" stroke="#000" stroke-width="0.8" fill="none"/>
<path d="M131.4 65.5H143.4" stroke="#000" stroke-width="0.8" fill="none"/>
<text transform="translate(149.5,67.8) scale(0.992,1)" font-size="18.4" text-anchor="start">0.0001</text>
<line x1="83.2" y1="84.2" x2="101.8" y2="84.2" stroke="#00ff00" stroke-width="2.1" stroke-linecap="round"/>
<text transform="translate(110.4,89.6) scale(1.07,1)" font-size="18.3" text-anchor="start" font-style="italic">D</text>
<path d="M131.4 83.5H143.4" stroke="#000" stroke-width="0.8" fill="none"/>
<path d="M131.4 87.5H143.4" stroke="#000" stroke-width="0.8" fill="none"/>
<text transform="translate(149.5,89.6) scale(0.992,1)" font-size="18.4" text-anchor="start">0.001</text>
<rect x="519.8" y="28.9" width="110.2" height="87.8" fill="#fff"/>
<rect x="629.8" y="54.9" width="15.4" height="14" fill="#fff"/>
<rect x="629.8" y="76.7" width="6.6" height="14" fill="#fff"/>
<line x1="528.2" y1="40.4" x2="546.8" y2="40.4" stroke="#0000ff" stroke-width="2.1" stroke-linecap="round"/>
<text transform="translate(555.4,45.8) scale(1.07,1)" font-size="18.3" text-anchor="start" font-style="italic">D</text>
<path d="M576.4 39.5H588.4" stroke="#000" stroke-width="0.8" fill="none"/>
<path d="M576.4 43.5H588.4" stroke="#000" stroke-width="0.8" fill="none"/>
<text transform="translate(594.5,45.8) scale(0.992,1)" font-size="18.4" text-anchor="start">0</text>
<line x1="528.2" y1="62.4" x2="546.8" y2="62.4" stroke="#ff0000" stroke-width="2.1" stroke-linecap="round"/>
<text transform="translate(555.4,67.8) scale(1.07,1)" font-size="18.3" text-anchor="start" font-style="italic">D</text>
<path d="M576.4 61.5H588.4" stroke="#000" stroke-width="0.8" fill="none"/>
<path d="M576.4 65.5H588.4" stroke="#000" stroke-width="0.8" fill="none"/>
<text transform="translate(594.5,67.8) scale(0.992,1)" font-size="18.4" text-anchor="start">0.0001</text>
<line x1="528.2" y1="84.2" x2="546.8" y2="84.2" stroke="#00ff00" stroke-width="2.1" stroke-linecap="round"/>
<text transform="translate(555.4,89.6) scale(1.07,1)" font-size="18.3" text-anchor="start" font-style="italic">D</text>
<path d="M576.4 83.5H588.4" stroke="#000" stroke-width="0.8" fill="none"/>
<path d="M576.4 87.5H588.4" stroke="#000" stroke-width="0.8" fill="none"/>
<text transform="translate(594.5,89.6) scale(0.992,1)" font-size="18.4" text-anchor="start">0.001</text>
<line x1="528.2" y1="106" x2="546.8" y2="106" stroke="#ffcc00" stroke-width="2.1" stroke-linecap="round"/>
<text transform="translate(555.4,111.4) scale(1.07,1)" font-size="18.3" text-anchor="start" font-style="italic">D</text>
<path d="M576.4 105.5H588.4" stroke="#000" stroke-width="0.8" fill="none"/>
<path d="M576.4 109.5H588.4" stroke="#000" stroke-width="0.8" fill="none"/>
<text transform="translate(594.5,111.4) scale(0.992,1)" font-size="18.4" text-anchor="start">0.01</text>
<text transform="translate(54.6,26.2) scale(0.992,1)" font-size="18.4" text-anchor="end">3.5</text>
<text transform="translate(54.6,65.33) scale(0.992,1)" font-size="18.4" text-anchor="end">3</text>
<text transform="translate(54.6,104.46) scale(0.992,1)" font-size="18.4" text-anchor="end">2.5</text>
<text transform="translate(54.6,143.59) scale(0.992,1)" font-size="18.4" text-anchor="end">2</text>
<text transform="translate(54.6,182.71) scale(0.992,1)" font-size="18.4" text-anchor="end">1.5</text>
<text transform="translate(54.6,221.84) scale(0.992,1)" font-size="18.4" text-anchor="end">1</text>
<text transform="translate(54.6,260.97) scale(0.992,1)" font-size="18.4" text-anchor="end">0.5</text>
<text transform="translate(54.6,300.1) scale(0.992,1)" font-size="18.4" text-anchor="end">0</text>
<text transform="translate(64,322.2) scale(0.992,1)" font-size="18.4" text-anchor="middle">0.02</text>
<text transform="translate(204.83,322.2) scale(0.992,1)" font-size="18.4" text-anchor="middle">0.04</text>
<text transform="translate(287.21,322.2) scale(0.992,1)" font-size="18.4" text-anchor="middle">0.06</text>
<text transform="translate(345.66,322.2) scale(0.992,1)" font-size="18.4" text-anchor="middle">0.08</text>
<text transform="translate(391,322.2) scale(0.992,1)" font-size="18.4" text-anchor="middle">0.1</text>
<text transform="translate(500,26.2) scale(0.992,1)" font-size="18.4" text-anchor="end">0.03</text>
<text transform="translate(500,71.83) scale(0.992,1)" font-size="18.4" text-anchor="end">0.025</text>
<text transform="translate(500,117.47) scale(0.992,1)" font-size="18.4" text-anchor="end">0.02</text>
<text transform="translate(500,163.1) scale(0.992,1)" font-size="18.4" text-anchor="end">0.015</text>
<text transform="translate(500,208.73) scale(0.992,1)" font-size="18.4" text-anchor="end">0.01</text>
<text transform="translate(500,254.37) scale(0.992,1)" font-size="18.4" text-anchor="end">0.005</text>
<text transform="translate(500,300) scale(0.992,1)" font-size="18.4" text-anchor="end">0</text>
<text transform="translate(490.3,322.2) scale(0.992,1)" font-size="18.4" text-anchor="start">10</text>
<path d="M510.3 312.4H518.2" stroke="#000" stroke-width="0.75" fill="none"/>
<text transform="translate(519.7,315.8) scale(0.992,1)" font-size="12.7" text-anchor="start">1</text>
<text transform="translate(650.3,322.2) scale(0.992,1)" font-size="18.4" text-anchor="start">10</text>
<text transform="translate(669,315.8) scale(0.992,1)" font-size="12.7" text-anchor="start">0</text>
<text transform="translate(804.3,322.2) scale(0.992,1)" font-size="18.4" text-anchor="start">10</text>
<text transform="translate(822.6,315.8) scale(0.992,1)" font-size="12.7" text-anchor="start">1</text>
<path d="M67.1 7.7L75.1 15.7M67.1 15.7L75.1 7.7" stroke="#000" stroke-width="0.75" fill="none"/>
<text transform="translate(78.3,16.9) scale(0.992,1)" font-size="18.4" text-anchor="start">10</text>
<path d="M98.3 6.4H106.2" stroke="#000" stroke-width="0.75" fill="none"/>
<text transform="translate(108.3,9.9) scale(0.992,1)" font-size="12.7" text-anchor="start">3</text>
<path d="M224 347.4C225.3 346.6 226.7 346.9 227.4 348.4C228 349.8 228.3 351.5 228.3 353.4" stroke="#000" stroke-width="1.25" fill="none" stroke-linecap="round"/>
<path d="M222.1 350.7C222.5 349.1 223.2 347.9 224.2 347.3M228.3 353L227.5 360M231.6 347.2C230.7 350 229.3 353 228.2 355.6" stroke="#000" stroke-width="0.75" fill="none" stroke-linecap="round"/>
<path d="M661.1 347.4C662.4 346.6 663.8 346.9 664.5 348.4C665.1 349.8 665.4 351.5 665.4 353.4" stroke="#000" stroke-width="1.25" fill="none" stroke-linecap="round"/>
<path d="M659.2 350.7C659.6 349.1 660.3 347.9 661.3 347.3M665.4 353L664.6 360M668.7 347.2C667.8 350 666.4 353 665.3 355.6" stroke="#000" stroke-width="0.75" fill="none" stroke-linecap="round"/>
<text transform="translate(14.1,158.6) rotate(-90) scale(1.06,1)" font-size="19.2" font-style="italic" text-anchor="middle">P</text>
<text transform="translate(439.1,158.6) rotate(-90) scale(1.06,1)" font-size="19.2" font-style="italic" text-anchor="middle">P</text>
<text transform="translate(369.8,280.4) scale(0.99,1)" font-size="19.6" text-anchor="middle">(a)</text>
<text transform="translate(801.3,280.4) scale(0.99,1)" font-size="19.6" text-anchor="middle">(b)</text>
</svg>
</div></body></html>
